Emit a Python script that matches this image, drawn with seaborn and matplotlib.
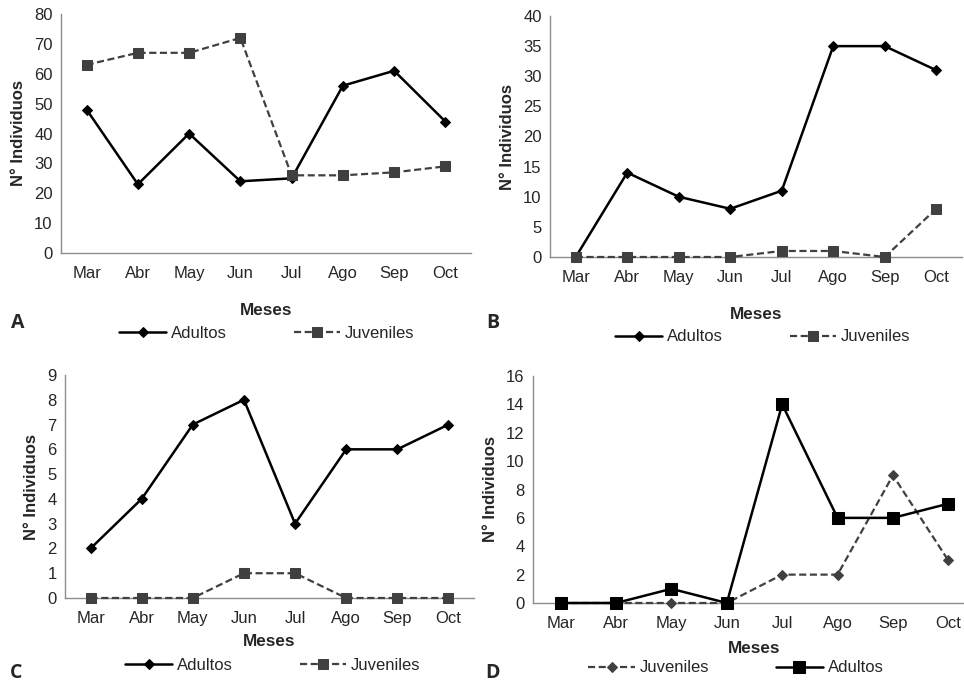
import numpy as np
import pandas as pd
import matplotlib
matplotlib.use("Agg")
import matplotlib.pyplot as plt
import seaborn as sns

# datos
meses = ["Mar", "Abr", "May", "Jun", "Jul", "Ago", "Sep", "Oct"]

adultos_a = [48, 23, 40, 24, 25, 56, 61, 44]
juveniles_a = [63, 67, 67, 72, 26, 26, 27, 29]

adultos_b = [0, 14, 10, 8, 11, 35, 35, 31]
juveniles_b = [0, 0, 0, 0, 1, 1, 0, 8]

adultos_c = [2, 4, 7, 8, 3, 6, 6, 7]
juveniles_c = [0, 0, 0, 1, 1, 0, 0, 0]

adultos_d = [0, 0, 1, 0, 14, 6, 6, 7]
juveniles_d = [0, 0, 0, 0, 2, 2, 9, 3]

sns.set_style("white")
plt.rcParams["font.family"] = ["Liberation Sans", "DejaVu Sans"]

W, H = 964, 683
fig = plt.figure(figsize=(W / 100, H / 100), dpi=100)

def px_axes(x0, x1, ytop, ybot):
    return fig.add_axes([x0 / W, 1 - ybot / H, (x1 - x0) / W, (ybot - ytop) / H])

GRIS = "#404040"
EJE = "#8c8c8c"
DASH = (0, (3.2, 1.6))

def serie(ax, valores, nombre, color, ls, marker, ms, lw):
    df = pd.DataFrame({"mes": meses, "n": valores})
    sns.lineplot(data=df, x="mes", y="n", ax=ax, sort=False, color=color,
                 linestyle=ls, marker=marker, markersize=ms, linewidth=lw,
                 markeredgecolor=color, markerfacecolor=color, label=nombre,
                 clip_on=False, zorder=3)

def estilo(ax, ymax, paso, pad_meses):
    ax.set_xlim(-0.5, 7.5)
    ax.set_ylim(0, ymax)
    ax.set_yticks(np.arange(0, ymax + 0.1, paso))
    for s in ["top", "right"]:
        ax.spines[s].set_visible(False)
    for s in ["left", "bottom"]:
        ax.spines[s].set_color(EJE)
        ax.spines[s].set_linewidth(1)
    ax.tick_params(axis="y", length=3, width=1, color=EJE, labelsize=12, pad=3)
    ax.tick_params(axis="x", length=0, labelsize=12, pad=9.5)
    ax.set_ylabel("N° Individuos", fontsize=12, fontweight="bold", labelpad=6)
    ax.set_xlabel("Meses", fontsize=12.3, fontweight="bold", labelpad=pad_meses)
    if ax.get_legend():
        ax.get_legend().remove()

def leyenda(ax, cx, cy):
    h, l = ax.get_legend_handles_labels()
    fig.legend(h, l, loc="center", bbox_to_anchor=(cx / W, 1 - cy / H), ncol=2,
               frameon=False, fontsize=12, handlelength=2.8, columnspacing=4.0,
               handletextpad=0.3, borderaxespad=0)

# A
axA = px_axes(61, 471, 14, 253)
serie(axA, adultos_a, "Adultos", "black", "-", "D", 5, 1.8)
serie(axA, juveniles_a, "Juveniles", GRIS, DASH, "s", 7, 1.6)
estilo(axA, 80, 10, 16)
leyenda(axA, 267, 333)

# B
axB = px_axes(550, 962, 16, 257)
serie(axB, adultos_b, "Adultos", "black", "-", "D", 5, 1.8)
serie(axB, juveniles_b, "Juveniles", GRIS, DASH, "s", 7, 1.6)
estilo(axB, 40, 5, 15.5)
leyenda(axB, 763, 337)

# C
axC = px_axes(65, 474, 375, 598)
serie(axC, adultos_c, "Adultos", "black", "-", "D", 5, 1.8)
serie(axC, juveniles_c, "Juveniles", GRIS, DASH, "s", 7, 1.6)
estilo(axC, 9, 1, 5.5)
leyenda(axC, 273, 665)

# D
axD = px_axes(533, 976, 376, 603)
serie(axD, juveniles_d, "Juveniles", GRIS, DASH, "D", 5, 1.6)
serie(axD, adultos_d, "Adultos", "black", "-", "s", 8, 1.8)
estilo(axD, 16, 2, 7)
leyenda(axD, 736, 668)

for letra, x, y in [("A", 18, 323), ("B", 493, 323), ("C", 16, 673), ("D", 493, 673)]:
    fig.text(x / W, 1 - y / H, letra, fontsize=14, fontweight="bold",
             ha="center", va="center", family=["Open Sans", "DejaVu Sans"])

fig.savefig("out.png", dpi=100)
